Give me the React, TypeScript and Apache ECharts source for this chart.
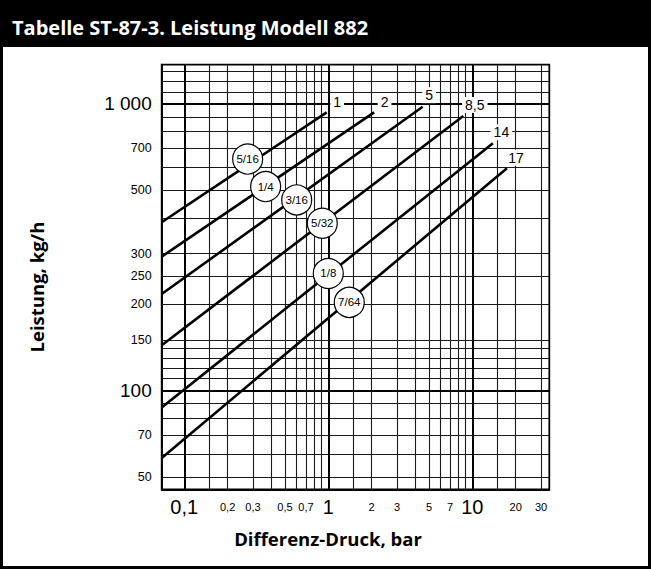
import React, { useEffect, useRef } from "react";
import * as echarts from "echarts";

const TITLE = "Tabelle ST-87-3. Leistung Modell 882";
const X_NAME = "Differenz-Druck, bar";
const Y_NAME = "Leistung, kg/h";

// axis ranges (log scales)
const xRange = [0.0697, 34.25];
const yRange = [45.3, 1367];

// tick labels
const xTickValues = [0.1, 0.2, 0.3, 0.5, 0.7, 1, 2, 3, 5, 7, 10, 20, 30];
const xTickLabels = ["0,1", "0,2", "0,3", "0,5", "0,7", "1", "2", "3", "5", "7", "10", "20", "30"];
const xBigTicks = [0.1, 1, 10];
const yTickValues = [50, 70, 100, 150, 200, 250, 300, 500, 700, 1000];
const yTickLabels = ["50", "70", "100", "150", "200", "250", "300", "500", "700", "1 000"];
const yBigTicks = [100, 1000];

// grid lines
const xGridMajor = [0.1, 1, 10];
const xGridMinor = [0.15, 0.2, 0.3, 0.4, 0.5, 0.6, 0.7, 0.8, 0.9, 1.5, 2, 3, 4, 5, 6, 7, 8, 9, 15, 20, 30];
const yGridMajor = [100, 1000];
const yGridMinor = [50, 60, 70, 80, 90, 110, 120, 130, 140, 150, 200, 250, 300, 400, 500, 600, 700, 800, 900, 1100, 1200, 1300];

// performance lines (inlet pressure, bar): start and end points [bar, kg/h]
const pressureLabels = ["1", "2", "5", "8,5", "14", "17"];
const line1 = [[0.0697, 386], [0.975, 933]];
const line2 = [[0.0697, 293], [2.08, 933]];
const line3 = [[0.0697, 217], [4.52, 976]];
const line4 = [[0.0697, 144], [8.66, 906]];
const line5 = [[0.0697, 87.3], [13.9, 728]];
const line6 = [[0.0697, 58.2], [17.4, 596]];
const lines = [line1, line2, line3, line4, line5, line6];

// orifice size markers
const orificeLabels = ["5/16", "1/4", "3/16", "5/32", "1/8", "7/64"];
const orificePoints = [
  [0.2755, 641],
  [0.3674, 514],
  [0.6034, 462],
  [0.9085, 383],
  [1.0, 256],
  [1.399, 203],
];

// label offsets for the pressure labels (px)
const endLabelOffsets = [
  [10.5, -10.5],
  [10.5, -10.5],
  [6.5, -11.5],
  [11.5, -11],
  [8.5, -11],
  [9, -10.5],
];

const SANS = "'Liberation Sans', Arial, sans-serif";
const BOLD = "'Open Sans', 'Liberation Sans', sans-serif";

const near = (a: number, b: number) => Math.abs(a - b) / b < 1e-3;
const idxOf = (arr: number[], v: number) => arr.findIndex((t) => near(v, t));

export default function App() {
  const ref = useRef<HTMLDivElement>(null);
  useEffect(() => {
    const chart = echarts.init(ref.current!, null, { renderer: "svg" });
    const minorStyle = { color: "#1a1a1a", width: 1.1, type: "solid" as const };
    const majorStyle = { color: "#000", width: 2, type: "solid" as const };
    const option: any = {
      animation: false,
      grid: { left: 161.7, top: 64.7, right: 101.7, bottom: 79.7, show: true, borderColor: "#000", borderWidth: 1.8 },
      xAxis: {
        type: "log",
        logBase: 10,
        min: xRange[0],
        max: xRange[1],
        axisLine: { show: true, lineStyle: { color: "#000", width: 1.8 } },
        axisTick: { show: false },
        splitLine: { show: false },
        minorSplitLine: { show: false },
        axisLabel: {
          customValues: xTickValues,
          margin: 6,
          color: "#000",
          formatter: (v: number) => {
            const i = idxOf(xTickValues, v);
            if (i < 0) return "";
            return idxOf(xBigTicks, v) >= 0 ? `{b|${xTickLabels[i]}}` : `{s|${xTickLabels[i]}}`;
          },
          rich: {
            b: { fontFamily: SANS, fontSize: 20, lineHeight: 24, color: "#000" },
            s: { fontFamily: SANS, fontSize: 11, lineHeight: 24, color: "#000" },
          },
        },
      },
      yAxis: {
        type: "log",
        logBase: 10,
        min: yRange[0],
        max: yRange[1],
        axisLine: { show: true, lineStyle: { color: "#000", width: 1.8 } },
        axisTick: { show: false },
        splitLine: { show: false },
        minorSplitLine: { show: false },
        axisLabel: {
          customValues: yTickValues,
          margin: 10,
          color: "#000",
          formatter: (v: number) => {
            const i = idxOf(yTickValues, v);
            if (i < 0) return "";
            return idxOf(yBigTicks, v) >= 0 ? `{b|${yTickLabels[i]}}` : `{s|${yTickLabels[i]}}`;
          },
          rich: {
            b: { fontFamily: SANS, fontSize: 19, color: "#000" },
            s: { fontFamily: SANS, fontSize: 12.5, color: "#000" },
          },
        },
      },
      graphic: [
        { type: "rect", shape: { x: 0, y: 0, width: 651, height: 47 }, style: { fill: "#000" }, z: 0 },
        {
          type: "rect",
          shape: { x: 1.5, y: 1.5, width: 648, height: 566 },
          style: { fill: "none", stroke: "#000", lineWidth: 3 },
          z: 0,
        },
        {
          type: "text",
          x: 12,
          y: 27,
          style: { text: TITLE, fill: "#fff", fontFamily: BOLD, fontWeight: "bold", fontSize: 20, verticalAlign: "middle" },
        },
        {
          type: "text",
          x: 328,
          y: 538,
          style: { text: X_NAME, fill: "#000", fontFamily: BOLD, fontWeight: "bold", fontSize: 18.5, align: "center", verticalAlign: "middle" },
        },
        {
          type: "text",
          x: 36,
          y: 287,
          rotation: Math.PI / 2,
          style: { text: Y_NAME, fill: "#000", fontFamily: BOLD, fontWeight: "bold", fontSize: 18.5, align: "center", verticalAlign: "middle" },
        },
      ],
      series: [
        {
          type: "line",
          name: "grid",
          data: [[xRange[0], yRange[0]]],
          symbol: "none",
          lineStyle: { opacity: 0 },
          silent: true,
          z: 1,
          markLine: {
            silent: true,
            z: 1,
            symbol: ["none", "none"],
            label: { show: false },
            animation: false,
            data: [
              ...xGridMinor.map((v) => ({ xAxis: v, lineStyle: minorStyle })),
              ...yGridMinor.map((v) => ({ yAxis: v, lineStyle: minorStyle })),
              ...xGridMajor.map((v) => ({ xAxis: v, lineStyle: majorStyle })),
              ...yGridMajor.map((v) => ({ yAxis: v, lineStyle: majorStyle })),
            ],
          },
        },
        ...lines.map((pts, i) => ({
          type: "line",
          name: pressureLabels[i],
          data: pts,
          symbol: "none",
          lineStyle: { color: "#000", width: 2.6 },
          silent: true,
          z: 3,
        })),
        {
          type: "scatter",
          name: "pressure labels",
          symbol: "circle",
          symbolSize: 1,
          itemStyle: { color: "#fff", opacity: 0 },
          silent: true,
          z: 6,
          data: lines.map((pts, i) => ({
            name: pressureLabels[i],
            value: pts[1],
            label: { offset: endLabelOffsets[i] },
          })),
          label: {
            show: true,
            position: "inside",
            formatter: "{b}",
            color: "#000",
            opacity: 1,
            fontFamily: SANS,
            fontSize: 14,
            textBorderWidth: 0,
            textBorderColor: "transparent",
            backgroundColor: "#fff",
            padding: [1, 3],
          },
        },
        {
          type: "scatter",
          name: "orifice",
          symbol: "circle",
          symbolSize: 30,
          silent: true,
          itemStyle: { color: "#fff", borderColor: "#000", borderWidth: 1.2, opacity: 1 },
          z: 7,
          data: orificePoints.map((p, i) => ({ name: orificeLabels[i], value: p })),
          label: {
            show: true,
            position: "inside",
            formatter: "{b}",
            color: "#000",
            fontFamily: SANS,
            fontSize: 11.5,
            textBorderWidth: 0,
            textBorderColor: "transparent",
          },
        },
      ],
    };
    chart.setOption(option);
    return () => chart.dispose();
  }, []);
  return (
    <div
      ref={ref}
      style={{ position: "fixed", left: 0, top: 0, width: 651, height: 569, background: "#fff" }}
    />
  );
}
